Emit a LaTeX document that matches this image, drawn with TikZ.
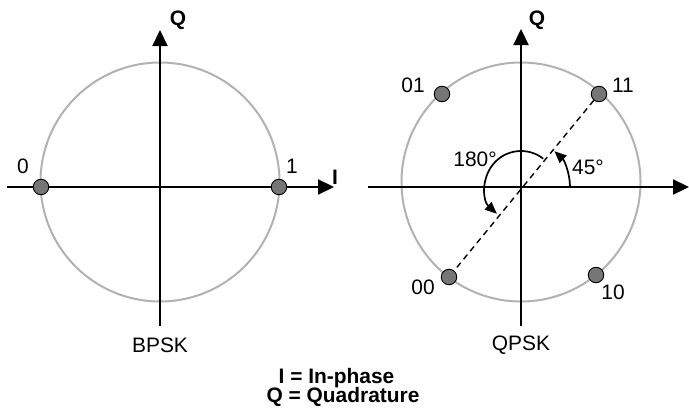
\documentclass[tikz,border=0pt]{standalone}
\usepackage{fontspec}
\setmainfont{Liberation Sans}
\usetikzlibrary{arrows.meta}
\definecolor{ringgray}{RGB}{178,178,178}
\definecolor{dotgray}{RGB}{118,118,118}
\tikzset{
  axis/.style={line width=2.2bp,-{Triangle[length=16bp,width=15bp]}},
  ring/.style={draw=ringgray,line width=2bp},
  pt/.style={circle,draw=black,fill=dotgray,line width=0.9bp,minimum size=15.5bp,inner sep=0pt},
  lbl/.style={font=\fontsize{21}{24}\selectfont,inner sep=0pt},
  blbl/.style={font=\fontsize{21}{24}\selectfont\bfseries,inner sep=0pt},
  angarc/.style={line width=1.7bp,-{Triangle[length=12bp,width=10bp]}},
}
\begin{document}
\begin{tikzpicture}[x=1bp,y=1bp]
\useasboundingbox (0,0) rectangle (689,411);
% ---------- BPSK ----------
\draw[ring] (160,229) circle (119.5);
\coordinate (bL) at (7,224);
\coordinate (bR) at (334,224);
\coordinate (bB) at (160,85);
\coordinate (bT) at (160,381);
\draw[axis] (bL) -- (bR);
\draw[axis] (bB) -- (bT);
\node[pt] (b0) at (41,224) {};
\node[pt] (b1) at (279,224) {};
\node[lbl] (l0) at (23,245) {0};
\node[lbl] (l1) at (292,245) {1};
\node[blbl] (bI) at (335,234) {I};
\node[blbl] (bQ) at (178,391) {Q};
\node[lbl] (bpsk) at (160,66) {BPSK};
% ---------- QPSK ----------
\draw[ring] (521,229) circle (119.5);
\coordinate (qO) at (521,224);
\coordinate (qL) at (368,224);
\coordinate (qR) at (689,224);
\coordinate (qB) at (521,85);
\coordinate (qT) at (521,382);
\draw[axis] (qL) -- (qR);
\draw[axis] (qB) -- (qT);
\node[pt] (p11) at (599,317) {};
\node[pt] (p01) at (442,317) {};
\node[pt] (p00) at (449,134) {};
\node[pt] (p10) at (596,136) {};
\draw[line width=1.4bp,dash pattern=on 6bp off 4.5bp] (p11) -- (p00);
\node[lbl] (t01) at (413,326) {01};
\node[lbl] (t11) at (623,326) {11};
\node[lbl] (t00) at (423,124) {00};
\node[lbl] (t10) at (613,119) {10};
\node[blbl] (qQ) at (537,391) {Q};
\draw[angarc] ([shift={(0:49)}]qO) arc (0:47:49);
\draw[angarc] ([shift={(52:36)}]qO) arc (52:228:36);
\node[lbl] (a180) at (475,252) {180°};
\node[lbl] (a45) at (588,244) {45°};
\node[lbl] (qpsk) at (521,66) {QPSK};
% ---------- legend ----------
\node[blbl] (legI) at (336.5,33) {I = In-phase};
\node[blbl] (legQ) at (343,14) {Q = Quadrature};
\end{tikzpicture}
\end{document}
